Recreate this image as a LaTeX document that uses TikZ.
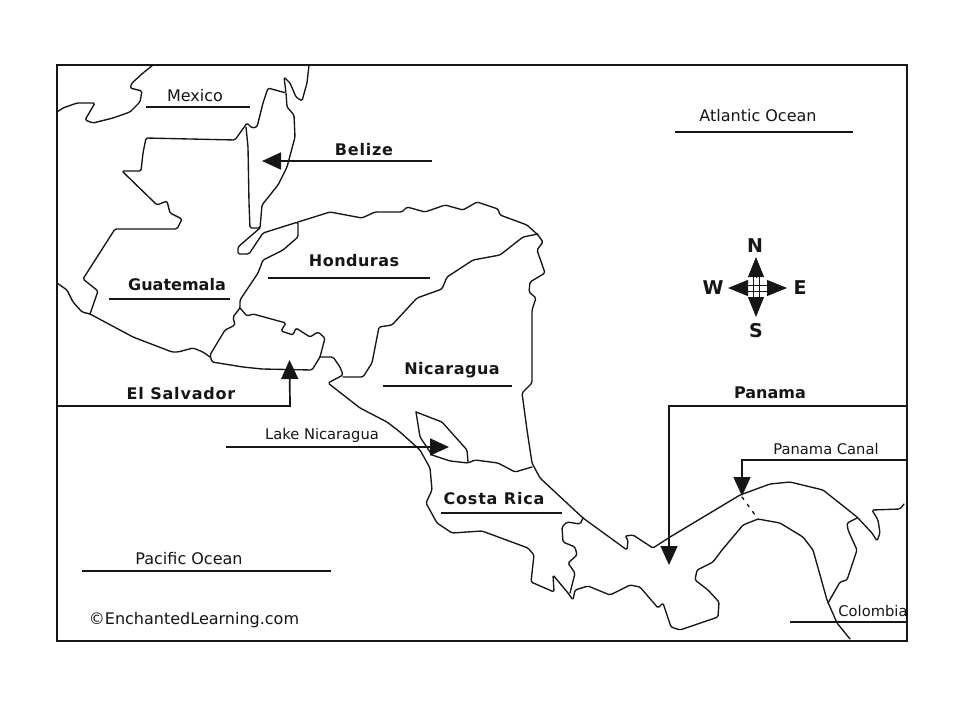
\documentclass[tikz,border=0pt]{standalone}
\usepackage{fontspec}
\usetikzlibrary{arrows.meta}
\setmainfont{DejaVu Sans}
\newfontfamily\regfont{DejaVu Sans}
\newfontfamily\boldfont{DejaVu Sans Bold}
\newfontfamily\boldmid[LetterSpace=3]{DejaVu Sans Bold}
\newfontfamily\boldwide[LetterSpace=5]{DejaVu Sans Bold}
\definecolor{ink}{RGB}{22,22,22}
\tikzset{
  maplines/.style={draw=ink,line width=1.35pt,line join=round,line cap=round,rounded corners=1.5pt},
  rulerule/.style={draw=ink,line width=1.7pt},
  arrowrule/.style={draw=ink,line width=1.7pt,-{Triangle[length=19pt,width=17pt]},shorten >=0pt},
  compassarrow/.style={draw=ink,line width=1pt,-{Triangle[length=20pt,width=16pt]}},
  small/.style={inner sep=0pt,text=ink,font=\fontsize{16}{18}\regfont},
  smaller/.style={inner sep=0pt,text=ink,font=\fontsize{14.7}{17}\regfont},
  strong/.style={inner sep=0pt,text=ink,font=\fontsize{16}{18}\boldfont},
  strongmid/.style={inner sep=0pt,text=ink,font=\fontsize{16}{18}\boldmid},
  strongwide/.style={inner sep=0pt,text=ink,font=\fontsize{16}{18}\boldwide},
  compassletter/.style={inner sep=0pt,text=ink,font=\fontsize{19}{21}\selectfont\bfseries},
}
\begin{document}
\begin{tikzpicture}[x=1pt,y=-1pt]
\useasboundingbox (0,0) rectangle (960,720);
\fill[white] (0,0) rectangle (960,720);
\draw[draw=ink,line width=1.6pt] (57,65) rectangle (907,641);

% Mexico coast
\draw[maplines] (153,65)--(143,73)--(132,83)--(130,88)--(142,91)--(140,102)--(130,112)--(113,118)--(93,123)--(85,120)--(95,103)--(77,103)--(63,108)--(57,112);
% Yucatan east coast and Belize
\draw[maplines] (309,65)--(307,83)--(302,101)--(296,97)--(290,83)--(284,77)--(286,93)--(268,88)--(263,103)--(257,127)--(252,128)--(247,123)--(235,140)--(190,139)--(146,138)--(143,153)--(141,171)--(122,171)--(157,205)--(167,201)--(170,213)--(182,219)--(177,229)--(115,229)--(83,279)--(98,291)--(90,314);
\draw[maplines] (286,93)--(287,107)--(294,115)--(295,137)--(287,167)--(278,185)--(262,205)--(260,228)--(250,228)--(249,203)--(248,147)--(246,127);
% Honduras gulf
\draw[maplines] (260,228)--(238,247)--(238,254)--(249,254)--(263,233)--(298,222)--(298,237)--(283,250)--(263,260)--(258,273)--(240,300)--(240,308)--(233,317)--(235,325)--(225,330)--(210,355)--(212,362)--(243,367)--(262,369)--(312,370)--(320,357)--(325,338)--(318,332)--(310,337)--(296,328)--(293,335)--(281,331)--(286,323)--(253,314)--(247,316)--(240,308);
% Pacific coast
\draw[maplines] (57,283)--(67,290)--(73,302)--(82,312)--(90,314)--(133,337)--(172,352)--(178,352)--(193,348)--(203,352)--(210,357);
\draw[maplines] (320,357)--(333,357)--(340,367)--(343,375)--(328,383)--(360,408)--(387,422)--(400,432)--(420,450)--(430,468)--(432,490)--(426,503)--(437,523)--(452,533)--(482,531)--(528,548)--(534,555)--(531,582)--(554,592)--(553,575)--(568,593)--(573,600)--(575,590)--(588,586)--(610,595)--(630,585)--(640,587)--(658,608)--(663,603)--(671,627)--(680,630)--(718,617)--(719,602)--(708,590)--(695,580)--(697,570)--(713,562)--(722,550)--(743,525)--(758,519)--(780,523)--(803,537)--(813,550)--(827,600)--(837,623)--(850,639);
% Colombia border
\draw[maplines] (828,603)--(840,582)--(847,580)--(857,550)--(848,530)--(847,523)--(857,518);
% Caribbean coast
\draw[maplines] (298,222)--(330,212)--(362,218)--(375,212)--(402,212)--(407,207)--(425,212)--(445,205)--(463,210)--(477,202)--(498,209)--(500,215)--(527,225)--(538,235)--(543,242)--(537,250)--(545,273)--(530,282)--(529,292)--(536,298)--(532,310)--(532,383)--(522,393)--(527,430)--(532,463)--(540,478)--(583,518)--(627,550)--(628,540)--(625,536)--(633,535)--(653,548)--(670,537)--(690,525)--(740,495)--(770,484)--(790,482)--(823,490)--(857,517)--(872,533)--(877,541)--(880,533)--(878,520)--(872,510)--(900,509)--(904,504);
% Honduras / Nicaragua
\draw[maplines] (538,234)--(523,237)--(500,255)--(473,260)--(447,277)--(442,289)--(417,298)--(392,325)--(379,327)--(372,363)--(363,377)--(343,377);
% Nicaragua / Costa Rica and lake
\draw[maplines] (432,455)--(450,461)--(468,463)--(475,460)--(498,463)--(515,472)--(532,467);
\draw[maplines] (416,412)--(442,422)--(467,450)--(468,462);
\draw[maplines] (416,412)--(420,437)--(432,455);
% Panama west border
\draw[maplines] (583,518)--(580,524)--(567,522)--(562,527)--(563,542)--(575,547)--(577,555)--(568,563)--(575,573)--(570,593);
% Canal
\draw[maplines,rounded corners=0pt,dash pattern=on 3pt off 6pt] (742,497)--(758,519);

% Labels
\node[small] (mexico) at (195,96) {Mexico};
\node[small] (atlantic) at (758,116) {Atlantic Ocean};
\node[strongwide] (belize) at (364,150) {Belize};
\node[strongmid] (honduras) at (354,261) {Honduras};
\node[strong] (guatemala) at (177,285) {Guatemala};
\node[strongwide] (salvador) at (181,394) {El Salvador};
\node[strongmid] (nicaragua) at (452,370) {Nicaragua};
\node[smaller] (lake) at (322,435) {Lake Nicaragua};
\node[strongwide] (costa) at (494,499) {Costa Rica};
\node[strong] (panama) at (770,393) {Panama};
\node[smaller] (canal) at (826,449) {Panama Canal};
\node[small] (pacific) at (189,559) {Pacific Ocean};
\node[smaller] (colombia) at (873,611) {Colombia};
\node[small] (credit) at (194,620) {©EnchantedLearning.com};

% Underlines
\draw[rulerule] (146,107)--(250,107);
\draw[rulerule] (675,132)--(853,132);
\draw[rulerule] (268,278)--(430,278);
\draw[rulerule] (109,299)--(230,299);
\draw[rulerule] (383,386)--(512,386);
\draw[rulerule] (441,513)--(562,513);
\draw[rulerule] (82,571)--(331,571);
\draw[rulerule] (790,622)--(907,622);

% Pointers
\coordinate (belizeR) at (432,161); \coordinate (belizeTip) at (262,161);
\draw[arrowrule] (belizeR)--(belizeTip);
\coordinate (elsL) at (57,406); \coordinate (elsE) at (290,406); \coordinate (elsTip) at (289.5,360);
\draw[arrowrule] (elsL)--(elsE)--(elsTip);
\coordinate (lakeL) at (226,447); \coordinate (lakeTip) at (449,447);
\draw[arrowrule] (lakeL)--(lakeTip);
\coordinate (panR) at (907,406); \coordinate (panE) at (669,406); \coordinate (panTip) at (669,565);
\draw[arrowrule] (panR)--(panE)--(panTip);
\coordinate (canR) at (907,460); \coordinate (canE) at (742,460); \coordinate (canTip) at (742,496);
\draw[arrowrule] (canR)--(canE)--(canTip);

% Compass
\coordinate (cN) at (756,257); \coordinate (cS) at (756,317); \coordinate (cW) at (728,288); \coordinate (cE) at (787,288);
\draw[draw=ink,line width=1pt] (753,277)--(753,298) (759.5,277)--(759.5,298) (745,285)--(767,285) (745,291.5)--(767,291.5);
\draw[compassarrow] (756,277.5)--(cN);
\draw[compassarrow] (756,298)--(cS);
\draw[compassarrow] (746,288)--(cW);
\draw[compassarrow] (767,288)--(cE);
\node[compassletter] (north) at (755,246) {N};
\node[compassletter] (south) at (756,331) {S};
\node[compassletter] (west) at (713,288) {W};
\node[compassletter] (east) at (800,288) {E};
\end{tikzpicture}
\end{document}
